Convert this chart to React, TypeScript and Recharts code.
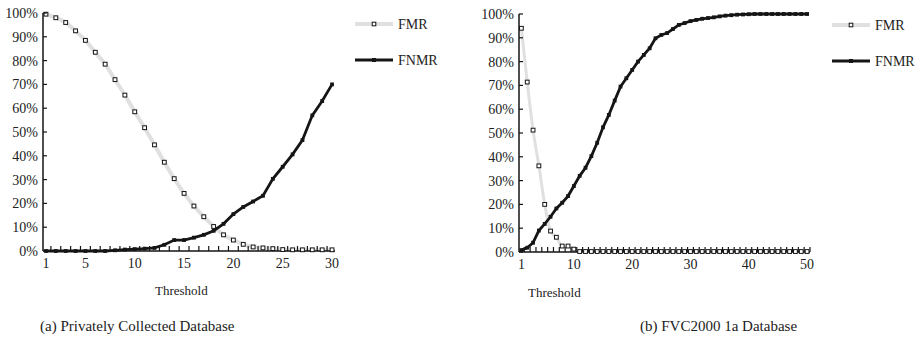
import { LineChart, Line, XAxis, YAxis } from 'recharts';

// (a) privately collected database
const leftThresholds = [1, 2, 3, 4, 5, 6, 7, 8, 9, 10, 11, 12, 13, 14, 15, 16, 17, 18, 19, 20, 21, 22, 23, 24, 25, 26, 27, 28, 29, 30];
const leftFmr = [99.5, 98, 96, 92.5, 88.5, 83.5, 78.5, 72, 65.5, 58.5, 51.8, 44.6, 37.3, 30.4, 24.2, 18.9, 14.4, 10.3, 6.8, 4.6, 2.8, 1.7, 1.3, 1.0, 0.6, 0.5, 0.5, 0.5, 0.5, 0.5];
const leftFnmr = [0, 0, 0, 0, 0, 0, 0, 0.3, 0.6, 0.8, 1, 1.3, 2.6, 4.6, 4.6, 5.6, 6.8, 8.5, 11.4, 15.5, 18.5, 20.8, 23.2, 30.3, 35.4, 40.6, 46.6, 57, 63, 70];
const leftTickLabels = [1, 5, 10, 15, 20, 25, 30];

// (b) FVC2000 1a database
const rightThresholds = [1, 2, 3, 4, 5, 6, 7, 8, 9, 10, 11, 12, 13, 14, 15, 16, 17, 18, 19, 20, 21, 22, 23, 24, 25, 26, 27, 28, 29, 30, 31, 32, 33, 34, 35, 36, 37, 38, 39, 40, 41, 42, 43, 44, 45, 46, 47, 48, 49, 50];
const rightFmr = [94, 71.4, 51.2, 36.2, 20, 8.8, 6.2, 2.5, 2.5, 1.2, 0.2, 0.2, 0.2, 0.2, 0.2, 0.2, 0.2, 0.2, 0.2, 0.2, 0.2, 0.2, 0.2, 0.2, 0.2, 0.2, 0.2, 0.2, 0.2, 0.2, 0.2, 0.2, 0.2, 0.2, 0.2, 0.2, 0.2, 0.2, 0.2, 0.2, 0.2, 0.2, 0.2, 0.2, 0.2, 0.2, 0.2, 0.2, 0.2, 0.2];
const rightFnmr = [0.8, 1.8, 3.9, 9, 11.8, 14.8, 18.3, 20.7, 23.5, 27.7, 32, 35.4, 40.3, 45.9, 52.4, 57.6, 63.6, 69.5, 73, 76.5, 80, 82.8, 85.6, 89.8, 91.2, 92, 93.7, 95.4, 96.2, 97, 97.5, 98, 98.3, 98.6, 99, 99.3, 99.5, 99.7, 99.8, 99.9, 100, 100, 100, 100, 100, 100, 100, 100, 100, 100];
const rightTickLabels = [1, 10, 20, 30, 40, 50];

const yTicks = [0, 10, 20, 30, 40, 50, 60, 70, 80, 90, 100];

const FONT = 'Liberation Serif, serif';
const INK = '#151515';
const GREY = '#e0e0e0';

const leftData = leftThresholds.map((t, i) => ({ t, fmr: leftFmr[i], fnmr: leftFnmr[i] }));
const rightData = rightThresholds.map((t, i) => ({ t, fmr: rightFmr[i], fnmr: rightFnmr[i] }));

// tick marks sit between the categories, labels on the categories
const halfTicks = (n: number) => Array.from({ length: n - 1 }, (_, i) => i + 1.5);

function makeXTick(labels: number[]) {
  return (props: any) => {
    const { x, y, payload } = props;
    const v = payload.value;
    if (labels.includes(v)) {
      return (
        <text x={x} y={y + 17} textAnchor="middle" fontFamily={FONT} fontSize={14} fill="#222">
          {v}
        </text>
      );
    }
    return <line x1={x} x2={x} y1={y} y2={y - 5} stroke={INK} strokeWidth={1.2} />;
  };
}

const YTick = (props: any) => {
  const { x, y, payload } = props;
  return (
    <g>
      <line x1={x} x2={x + 4} y1={y} y2={y} stroke={INK} strokeWidth={1.2} />
      <text x={x - 5} y={y} dy="0.35em" textAnchor="end" fontFamily={FONT} fontSize={14} fill="#222">
        {payload.value}%
      </text>
    </g>
  );
};

const fmrDot = (props: any) => {
  const { cx, cy, index } = props;
  return <rect key={'m' + index} x={cx - 1.9} y={cy - 1.9} width={3.8} height={3.8} fill="#fff" stroke={INK} strokeWidth={1} />;
};

const fnmrDot = (props: any) => {
  const { cx, cy, index } = props;
  return <rect key={'n' + index} x={cx - 1.9} y={cy - 1.9} width={3.8} height={3.8} fill={INK} />;
};

function LegendBox({ left, top }: { left: number; top: number }) {
  return (
    <svg width={90} height={60} style={{ position: 'absolute', left, top, overflow: 'visible' }}>
      <line x1={0} x2={38} y1={10} y2={10} stroke={GREY} strokeWidth={4} />
      <rect x={17.2} y={8.2} width={3.6} height={3.6} fill="#fff" stroke={INK} strokeWidth={1} />
      <text x={43} y={10} dy="0.35em" fontFamily={FONT} fontSize={14} fill="#222">FMR</text>
      <line x1={0} x2={38} y1={46} y2={46} stroke={INK} strokeWidth={3} />
      <rect x={17} y={44} width={4} height={4} fill={INK} />
      <text x={43} y={46} dy="0.35em" fontFamily={FONT} fontSize={14} fill="#222">FNMR</text>
    </svg>
  );
}

const textStyle = { position: 'absolute' as const, fontFamily: FONT, color: '#222', whiteSpace: 'nowrap' as const };

export default function App() {
  return (
    <div style={{ position: 'absolute', left: 0, top: 0, width: 916, height: 342, background: '#fff' }}>
      <div style={{ position: 'absolute', left: 0, top: 0 }}>
        <LineChart width={440} height={300} data={leftData} margin={{ top: 13, right: 105, bottom: 19, left: 3 }}>
          <XAxis
            dataKey="t"
            type="number"
            domain={[0.7, 30.3]}
            ticks={[...leftTickLabels, ...halfTicks(30)]}
            interval={0}
            tickSize={0}
            tickMargin={0}
            height={30}
            tick={makeXTick(leftTickLabels)}
            axisLine={{ stroke: INK, strokeWidth: 1.5 }}
          />
          <YAxis
            type="number"
            domain={[0, 100]}
            ticks={yTicks}
            interval={0}
            width={40}
            tickSize={0}
            tickMargin={0}
            tick={YTick}
            axisLine={{ stroke: INK, strokeWidth: 1.5 }}
          />
          <Line type="monotone" dataKey="fmr" stroke={GREY} strokeWidth={4} dot={fmrDot} isAnimationActive={false} />
          <Line type="linear" dataKey="fnmr" stroke={INK} strokeWidth={2.8} dot={fnmrDot} isAnimationActive={false} />
        </LineChart>
      </div>
      <div style={{ position: 'absolute', left: 440, top: 0 }}>
        <LineChart width={476} height={300} data={rightData} margin={{ top: 14, right: 106, bottom: 18, left: 9 }}>
          <XAxis
            dataKey="t"
            type="number"
            domain={[0.59, 50.5]}
            ticks={[...rightTickLabels, ...halfTicks(51)]}
            interval={0}
            tickSize={0}
            tickMargin={0}
            height={30}
            tick={makeXTick(rightTickLabels)}
            axisLine={{ stroke: INK, strokeWidth: 1.5 }}
          />
          <YAxis
            type="number"
            domain={[0, 100]}
            ticks={yTicks}
            interval={0}
            width={70}
            tickSize={0}
            tickMargin={0}
            tick={YTick}
            axisLine={{ stroke: INK, strokeWidth: 1.5 }}
          />
          <Line type="monotone" dataKey="fmr" stroke={GREY} strokeWidth={3} dot={fmrDot} isAnimationActive={false} />
          <Line type="linear" dataKey="fnmr" stroke={INK} strokeWidth={2.8} dot={fnmrDot} isAnimationActive={false} />
        </LineChart>
      </div>
      <LegendBox left={355} top={14} />
      <LegendBox left={832} top={15} />
      <div style={{ ...textStyle, left: 155, top: 283, fontSize: 13 }}>Threshold</div>
      <div style={{ ...textStyle, left: 528, top: 285, fontSize: 13 }}>Threshold</div>
      <div style={{ ...textStyle, left: 40, top: 318, fontSize: 15 }}>(a) Privately Collected Database</div>
      <div style={{ ...textStyle, left: 640, top: 318, fontSize: 15 }}>(b) FVC2000 1a Database</div>
    </div>
  );
}
